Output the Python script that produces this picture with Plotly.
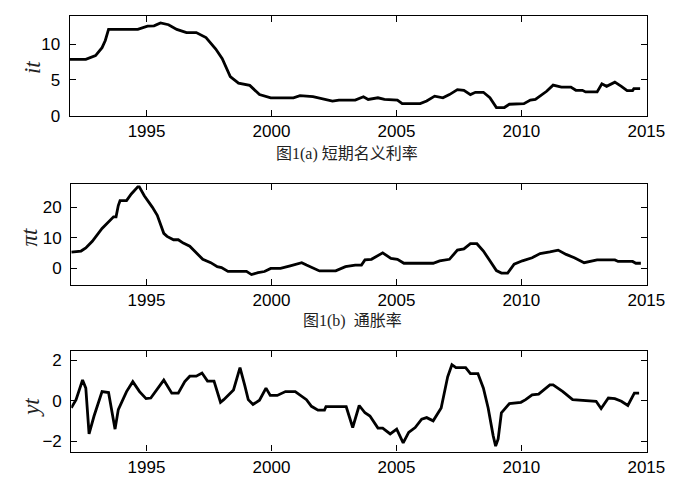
import plotly.graph_objects as go

# ---- data ----
i_years = [1991.92, 1992.57, 1992.96, 1993.22, 1993.35, 1993.48, 1994.65, 1995.04, 1995.3, 1995.56,
           1995.88, 1996.21, 1996.6, 1996.99, 1997.38, 1997.77, 1998.03, 1998.35, 1998.68, 1999.13,
           1999.52, 1999.97, 2000.88, 2001.14, 2001.66, 2002.12, 2002.44, 2002.7, 2003.35, 2003.68,
           2003.87, 2004.26, 2004.52, 2005.04, 2005.23, 2005.95, 2006.21, 2006.53, 2006.86, 2007.12,
           2007.44, 2007.7, 2007.96, 2008.16, 2008.48, 2008.74, 2009.0, 2009.32, 2009.52, 2010.1,
           2010.36, 2010.56, 2010.75, 2011.01, 2011.27, 2011.6, 2011.98, 2012.18, 2012.44, 2012.57,
           2013.03, 2013.22, 2013.41, 2013.74, 2014.0, 2014.23, 2014.45, 2014.5, 2014.75]
i_values = [7.87, 7.87, 8.4, 9.5, 10.5, 12.05, 12.05, 12.5, 12.55, 12.96,
            12.7, 12.05, 11.6, 11.6, 10.9, 9.3, 7.95, 5.45, 4.55, 4.23,
            2.95, 2.5, 2.5, 2.8, 2.65, 2.27, 2.05, 2.18, 2.18, 2.64,
            2.27, 2.5, 2.27, 2.18, 1.68, 1.68, 2.05, 2.73, 2.5, 2.95,
            3.64, 3.55, 2.95, 3.27, 3.27, 2.5, 1.14, 1.14, 1.6, 1.68,
            2.18, 2.27, 2.8, 3.41, 4.27, 4.0, 4.0, 3.55, 3.55, 3.32,
            3.32, 4.46, 4.1, 4.68, 4.1, 3.5, 3.5, 3.77, 3.77]

pi_years = [1991.99, 1992.38, 1992.57, 1992.83, 1993.22, 1993.48, 1993.68, 1993.78, 1993.87, 1993.94,
            1994.2, 1994.39, 1994.65, 1994.71, 1994.91, 1995.23, 1995.43, 1995.69, 1995.82, 1996.08,
            1996.27, 1996.47, 1996.73, 1996.92, 1997.25, 1997.57, 1997.83, 1998.0, 1998.26, 1999.0,
            1999.2, 1999.46, 1999.72, 1999.97, 2000.36, 2000.75, 2001.21, 2001.4, 2001.73, 2001.92,
            2002.57, 2002.7, 2002.96, 2003.35, 2003.6, 2003.74, 2004.0, 2004.45, 2004.78, 2005.04,
            2005.3, 2006.47, 2006.73, 2007.12, 2007.44, 2007.7, 2007.96, 2008.22, 2008.48, 2008.74,
            2009.0, 2009.2, 2009.45, 2009.71, 2010.04, 2010.43, 2010.75, 2011.14, 2011.47, 2011.79,
            2012.12, 2012.51, 2012.7, 2013.03, 2013.74, 2013.87, 2014.45, 2014.58, 2014.78]
pi_values = [5.25, 5.6, 6.6, 8.8, 13.0, 15.2, 16.8, 16.8, 20.5, 22.1,
             22.1, 24.3, 26.6, 26.6, 23.7, 20.0, 17.3, 11.4, 10.4, 9.3,
             9.3, 8.2, 7.2, 5.6, 2.9, 1.8, 0.5, 0.2, -1.06, -1.06,
             -2.1, -1.5, -1.1, -0.1, -0.1, 0.77, 1.8, 1.0, -0.3, -0.9,
             -0.9, -0.5, 0.5, 1.0, 1.0, 2.7, 2.9, 5.0, 3.2, 2.9,
             1.6, 1.6, 2.4, 2.9, 5.9, 6.3, 8.0, 8.0, 5.6, 2.4,
             -0.8, -1.6, -1.6, 1.3, 2.4, 3.4, 4.8, 5.3, 5.9, 4.5,
             3.4, 1.8, 2.1, 2.7, 2.7, 2.2, 2.2, 1.6, 1.6]

y_years = [1991.99, 1992.18, 1992.44, 1992.57, 1992.7, 1992.9, 1993.22, 1993.48, 1993.74, 1993.87,
           1994.2, 1994.45, 1994.72, 1994.98, 1995.17, 1995.69, 1996.01, 1996.27, 1996.53, 1996.73,
           1996.99, 1997.22, 1997.44, 1997.7, 1997.96, 1998.09, 1998.48, 1998.74, 1998.93, 1999.07,
           1999.26, 1999.52, 1999.78, 1999.95, 2000.23, 2000.56, 2000.95, 2001.4, 2001.6, 2001.86,
           2002.12, 2002.18, 2002.99, 2003.25, 2003.51, 2003.74, 2003.94, 2004.26, 2004.45, 2004.75,
           2005.01, 2005.27, 2005.49, 2005.75, 2006.01, 2006.21, 2006.47, 2006.79, 2007.05, 2007.22,
           2007.38, 2007.77, 2007.96, 2008.26, 2008.48, 2008.67, 2008.87, 2008.97, 2009.07, 2009.2,
           2009.52, 2009.98, 2010.17, 2010.43, 2010.69, 2011.14, 2011.27, 2011.66, 2012.05, 2012.99,
           2013.19, 2013.48, 2013.74, 2014.0, 2014.26, 2014.52, 2014.71]
y_values = [-0.36, 0.05, 1.02, 0.62, -1.65, -0.76, 0.45, 0.4, -1.41, -0.44,
            0.45, 0.94, 0.45, 0.1, 0.13, 1.02, 0.37, 0.37, 0.94, 1.21,
            1.21, 1.37, 0.97, 0.97, -0.08, 0.05, 0.53, 1.64, 0.76, 0.05,
            -0.19, 0.02, 0.62, 0.26, 0.26, 0.45, 0.45, 0.05, -0.28, -0.47,
            -0.47, -0.3, -0.3, -1.33, -0.24, -0.6, -0.76, -1.36, -1.36, -1.65,
            -1.41, -2.09, -1.57, -1.33, -0.92, -0.84, -1.0, -0.36, 1.18, 1.78,
            1.64, 1.64, 1.34, 1.34, 0.62, -0.36, -1.73, -2.25, -1.9, -0.6,
            -0.15, -0.08, 0.05, 0.29, 0.32, 0.78, 0.78, 0.45, 0.05, -0.03,
            -0.39, 0.13, 0.1, -0.03, -0.24, 0.37, 0.37]

x_ticks = [1995, 2000, 2005, 2010, 2015]
i_ticks = [0, 5, 10]
pi_ticks = [0, 10, 20]
y_ticks = [-2, 0, 2]
captions = ["图1(a) 短期名义利率", "图1(b)  通胀率"]
y_titles = ["<i>it</i>", "<i>πt</i>", "<i>yt</i>"]

W, H = 680, 479

def px_x(p):
    return p / W

def px_y(p):
    return 1 - p / H

fig = go.Figure()
line = dict(color="black", width=2.8)
fig.add_trace(go.Scatter(x=i_years, y=i_values, mode="lines", line=line, xaxis="x", yaxis="y"))
fig.add_trace(go.Scatter(x=pi_years, y=pi_values, mode="lines", line=line, xaxis="x2", yaxis="y2"))
fig.add_trace(go.Scatter(x=y_years, y=y_values, mode="lines", line=line, xaxis="x3", yaxis="y3"))

tickfont = dict(family="Liberation Sans, Arial, sans-serif", size=17, color="black")

def xax(left, yname):
    return dict(domain=[px_x(left), px_x(656.7)],
                range=[1995 + (left - 142.3) / 25.67, 1995 + (656.7 - 142.3) / 25.67],
                tickvals=x_ticks, ticktext=[str(v) for v in x_ticks],
                ticks="inside", ticklen=6, tickwidth=1, tickcolor="black",
                showline=True, linecolor="black", linewidth=1.2, mirror="ticks",
                showgrid=False, zeroline=False, tickfont=tickfont, anchor=yname,
                ticklabelstandoff=0)

def yax(top, bottom, rng, tv, xname):
    return dict(domain=[px_y(bottom), px_y(top)], range=rng, tickvals=tv,
                ticks="inside", ticklen=6, tickwidth=1, tickcolor="black",
                showline=True, linecolor="black", linewidth=1.2, mirror="ticks",
                showgrid=False, zeroline=False, tickfont=tickfont, anchor=xname,
                ticklabelstandoff=5)

fig.update_layout(
    width=W, height=H,
    margin=dict(l=0, r=0, t=0, b=0),
    paper_bgcolor="white", plot_bgcolor="white",
    showlegend=False,
    xaxis=xax(63.3, "y"),
    xaxis2=xax(65, "y2"),
    xaxis3=xax(65, "y3"),
    yaxis=yax(8.3, 110, [0, 13.9], i_ticks, "x"),
    yaxis2=yax(179.3, 282.7, [-5.45, 27.7], pi_ticks, "x2"),
    yaxis3=yax(350.5, 453.0, [-2.52, 2.45], y_ticks, "x3"),
)

cap_font = dict(family="Liberation Serif, Noto Sans CJK SC, serif", size=16, color="#222")
fig.add_annotation(text=captions[0], x=px_x(348), y=px_y(149), xref="paper", yref="paper",
                   showarrow=False, font=cap_font, xanchor="center", yanchor="middle")
fig.add_annotation(text=captions[1], x=px_x(354), y=px_y(320), xref="paper", yref="paper",
                   showarrow=False, font=cap_font, xanchor="center", yanchor="middle")

lab_font = dict(family="Liberation Serif, DejaVu Serif, serif", size=23, color="#222")
for t, (cx, cy) in zip(y_titles, [(25, 61), (22, 234), (24, 408)]):
    fig.add_annotation(text=t, x=px_x(cx), y=px_y(cy), xref="paper", yref="paper",
                       showarrow=False, font=lab_font, textangle=-90,
                       xanchor="center", yanchor="middle")

fig.write_html("out.html")
